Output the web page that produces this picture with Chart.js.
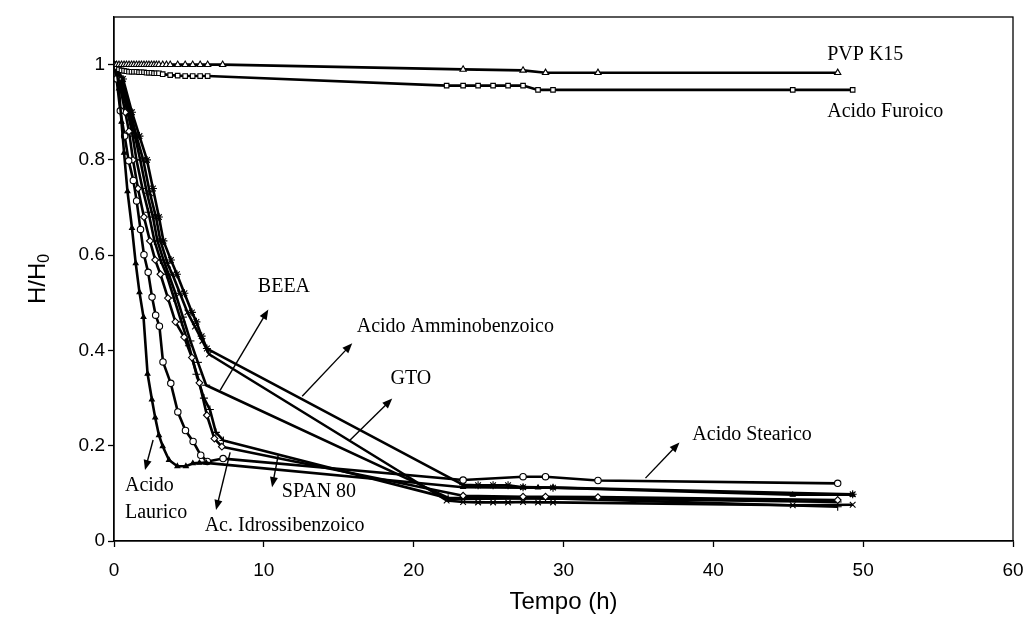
<!DOCTYPE html>
<html lang="it">
<head>
<meta charset="UTF-8">
<title>H/H0 - Tempo</title>
<script src="https://cdn.jsdelivr.net/npm/chart.js@4.4.1/dist/chart.umd.min.js"></script>
<style>
body { margin: 0; background: #fff; }
canvas { display: block; }
</style>
</head>
<body>
<canvas id="grafico" width="1027" height="622"></canvas>
<script>
// Ticks dos eixos
const ticksX = [0, 10, 20, 30, 40, 50, 60];
const ticksY = [0, 0.2, 0.4, 0.6, 0.8, 1];

// PVP K15
const tempoPVP = [0, 0.17, 0.33, 0.5, 0.67, 0.83, 1, 1.17, 1.33, 1.5, 1.67, 1.83, 2, 2.17, 2.33, 2.5, 2.67, 2.83, 3, 3.25, 3.5, 3.75, 4.25, 4.75, 5.25, 5.75, 6.25, 7.25, 23.3, 27.3, 28.8, 32.3, 48.3];
const valoresPVP = [1, 1, 1, 1, 1, 1, 1, 1, 1, 1, 1, 1, 1, 1, 1, 1, 1, 1, 1, 1, 1, 1, 1, 1, 1, 1, 1, 1, 0.990, 0.988, 0.983, 0.983, 0.983];

// Acido Furoico
const tempoFuroico = [0, 0.17, 0.33, 0.5, 0.67, 0.83, 1, 1.17, 1.33, 1.5, 1.67, 1.83, 2, 2.17, 2.33, 2.5, 2.67, 2.83, 3, 3.25, 3.75, 4.25, 4.75, 5.25, 5.75, 6.25, 22.2, 23.3, 24.3, 25.3, 26.3, 27.3, 28.3, 29.3, 45.3, 49.3];
const valoresFuroico = [1, 0.995, 0.99, 0.988, 0.987, 0.986, 0.985, 0.985, 0.985, 0.985, 0.984, 0.984, 0.984, 0.983, 0.983, 0.983, 0.982, 0.982, 0.982, 0.98, 0.978, 0.977, 0.976, 0.976, 0.976, 0.976, 0.956, 0.956, 0.956, 0.956, 0.956, 0.956, 0.947, 0.947, 0.947, 0.947];

// Acido Laurico
const tempoLaurico = [0, 0.17, 0.33, 0.5, 0.67, 0.9, 1.2, 1.45, 1.7, 1.97, 2.24, 2.53, 2.75, 3, 3.25, 3.67, 4.23, 4.8, 5.26, 5.7, 6.15, 23.3, 27.3, 28.3, 29.3, 45.3, 49.3];
const valoresLaurico = [1, 0.99, 0.95, 0.88, 0.815, 0.734, 0.657, 0.583, 0.522, 0.47, 0.351, 0.297, 0.259, 0.222, 0.199, 0.17, 0.157, 0.157, 0.163, 0.164, 0.164, 0.113, 0.112, 0.112, 0.112, 0.097, 0.097];

// Acido Stearico
const tempoStearico = [0, 0.17, 0.42, 0.71, 0.98, 1.29, 1.51, 1.77, 2, 2.28, 2.54, 2.78, 3.03, 3.27, 3.79, 4.26, 4.77, 5.28, 5.79, 6.23, 7.28, 23.3, 27.3, 28.8, 32.3, 48.3];
const valoresStearico = [1, 0.97, 0.903, 0.85, 0.798, 0.757, 0.714, 0.654, 0.601, 0.564, 0.512, 0.474, 0.451, 0.376, 0.331, 0.271, 0.232, 0.209, 0.18, 0.167, 0.173, 0.128, 0.135, 0.135, 0.127, 0.121];

// Ac. Idrossibenzoico
const tempoIdross = [0, 0.3, 0.75, 1, 1.27, 1.6, 2, 2.4, 2.75, 3.1, 3.6, 4.1, 4.68, 5.2, 5.7, 6.2, 6.7, 7.2, 23.3, 27.3, 28.8, 32.3, 48.3];
const valoresIdross = [1, 0.97, 0.9, 0.86, 0.8, 0.74, 0.68, 0.63, 0.59, 0.56, 0.51, 0.46, 0.428, 0.385, 0.332, 0.264, 0.215, 0.198, 0.095, 0.093, 0.093, 0.092, 0.086];

// SPAN 80
const tempoSpan = [0, 0.4, 0.9, 1.2, 1.5, 1.9, 2.3, 2.7, 3.1, 3.5, 4, 4.5, 5, 5.5, 6, 6.4, 6.8, 7.3, 22.3, 27.3, 28.8, 48.3];
const valoresSpan = [1, 0.97, 0.9, 0.86, 0.8, 0.74, 0.69, 0.63, 0.59, 0.56, 0.51, 0.46, 0.41, 0.35, 0.3, 0.276, 0.228, 0.211, 0.09, 0.09, 0.09, 0.072];

// BEEA
const tempoBEEA = [0, 0.45, 1, 1.4, 1.75, 2.2, 2.6, 2.9, 3.3, 3.65, 4.1, 4.6, 5.1, 5.6, 6.15, 22.5, 27.3, 28.8, 32.3, 48.3];
const valoresBEEA = [1, 0.97, 0.9, 0.85, 0.8, 0.73, 0.68, 0.63, 0.59, 0.56, 0.52, 0.47, 0.42, 0.375, 0.327, 0.088, 0.09, 0.089, 0.089, 0.082];

// GTO
const tempoGTO = [0, 0.5, 1.1, 1.5, 1.95, 2.4, 2.8, 3.1, 3.6, 3.9, 4.4, 4.9, 5.4, 5.9, 6.35, 22.2, 23.3, 24.3, 25.3, 26.3, 27.3, 28.3, 29.3, 45.3, 49.3];
const valoresGTO = [1, 0.97, 0.9, 0.85, 0.8, 0.73, 0.68, 0.63, 0.58, 0.56, 0.52, 0.48, 0.45, 0.42, 0.392, 0.085, 0.082, 0.081, 0.081, 0.081, 0.082, 0.081, 0.081, 0.075, 0.076];

// Acido Amminobenzoico
const tempoAmmino = [0, 0.6, 1.2, 1.7, 2.2, 2.6, 3, 3.3, 3.8, 4.2, 4.7, 5.2, 5.5, 5.85, 6.2, 23.3, 24.3, 25.3, 26.3, 27.3, 29.3, 49.3];
const valoresAmmino = [1, 0.97, 0.9, 0.85, 0.8, 0.74, 0.68, 0.63, 0.59, 0.56, 0.52, 0.48, 0.46, 0.43, 0.404, 0.118, 0.117, 0.117, 0.117, 0.113, 0.112, 0.098];

// Rotulos (x, y em unidades dos eixos)
const rotulos = [
    { texto: 'PVP K15', x: 47.6, y: 1.02 },
    { texto: 'Acido Furoico', x: 47.6, y: 0.902 },
    { texto: 'BEEA', x: 9.6, y: 0.534 },
    { texto: 'Acido Amminobenzoico', x: 16.2, y: 0.45 },
    { texto: 'GTO', x: 18.45, y: 0.341 },
    { texto: 'Acido Stearico', x: 38.6, y: 0.222 },
    { texto: 'SPAN 80', x: 11.2, y: 0.103 },
    { texto: 'Acido', x: 0.73, y: 0.115 },
    { texto: 'Laurico', x: 0.73, y: 0.06 },
    { texto: 'Ac. Idrossibenzoico', x: 6.05, y: 0.032 }
];

// Setas: da curva ate o rotulo
const setas = [
    { de: [7.08, 0.316], para: [10.3, 0.486] },
    { de: [12.56, 0.304], para: [15.9, 0.415] },
    { de: [15.76, 0.212], para: [18.57, 0.299] },
    { de: [35.47, 0.132], para: [37.74, 0.207] },
    { de: [10.96, 0.18], para: [10.55, 0.113] },
    { de: [7.75, 0.186], para: [6.81, 0.065] },
    { de: [2.61, 0.212], para: [2.07, 0.149] }
];

function pontos(tempo, valores) {
    return tempo.map((t, i) => ({ x: t, y: valores[i] }));
}

function serie(nome, tempo, valores, estilo, preenchido = false, raio = 3.2) {
    return {
        label: nome,
        data: pontos(tempo, valores),
        borderColor: '#000',
        borderWidth: 2.6,
        borderJoinStyle: 'round',
        pointStyle: estilo,
        pointRadius: raio,
        pointBorderWidth: 1.1,
        pointBorderColor: '#000',
        pointBackgroundColor: preenchido ? '#000' : '#fff',
        tension: 0,
        fill: false
    };
}

const fonteEixo = '"Liberation Sans", Arial, sans-serif';
const fonteRotulo = '"Liberation Serif", "Times New Roman", serif';

// Moldura, titulos dos eixos, rotulos e setas
const extras = {
    id: 'extras',
    afterDatasetsDraw(chart) {
        const ctx = chart.ctx;
        const sx = chart.scales.x;
        const sy = chart.scales.y;
        const area = chart.chartArea;

        ctx.save();
        ctx.strokeStyle = '#000';
        ctx.lineWidth = 1.3;
        ctx.strokeRect(area.left, area.top, area.right - area.left, area.bottom - area.top);

        // setas
        ctx.fillStyle = '#000';
        ctx.lineWidth = 1.4;
        setas.forEach(s => {
            const x1 = sx.getPixelForValue(s.de[0]);
            const y1 = sy.getPixelForValue(s.de[1]);
            const x2 = sx.getPixelForValue(s.para[0]);
            const y2 = sy.getPixelForValue(s.para[1]);
            const ang = Math.atan2(y2 - y1, x2 - x1);
            const tam = 10;
            ctx.beginPath();
            ctx.moveTo(x1, y1);
            ctx.lineTo(x2 - Math.cos(ang) * tam * 0.8, y2 - Math.sin(ang) * tam * 0.8);
            ctx.stroke();
            ctx.beginPath();
            ctx.moveTo(x2, y2);
            ctx.lineTo(x2 - tam * Math.cos(ang) + 4 * Math.sin(ang), y2 - tam * Math.sin(ang) - 4 * Math.cos(ang));
            ctx.lineTo(x2 - tam * Math.cos(ang) - 4 * Math.sin(ang), y2 - tam * Math.sin(ang) + 4 * Math.cos(ang));
            ctx.closePath();
            ctx.fill();
        });

        // rotulos das curvas
        ctx.font = '20px ' + fonteRotulo;
        ctx.textAlign = 'left';
        ctx.textBaseline = 'middle';
        rotulos.forEach(r => {
            ctx.fillText(r.texto, sx.getPixelForValue(r.x), sy.getPixelForValue(r.y));
        });

        // titulo eixo x
        ctx.font = '24px ' + fonteEixo;
        ctx.textAlign = 'center';
        ctx.fillText('Tempo (h)', (area.left + area.right) / 2, 602);

        // titulo eixo y com subscrito
        ctx.translate(38, (area.top + area.bottom) / 2);
        ctx.rotate(-Math.PI / 2);
        ctx.textAlign = 'left';
        const principal = 'H/H';
        ctx.font = '24px ' + fonteEixo;
        const w1 = ctx.measureText(principal).width;
        ctx.font = '16px ' + fonteEixo;
        const w2 = ctx.measureText('0').width;
        const inicio = -(w1 + w2) / 2;
        ctx.font = '24px ' + fonteEixo;
        ctx.fillText(principal, inicio, 0);
        ctx.font = '16px ' + fonteEixo;
        ctx.fillText('0', inicio + w1, 7);
        ctx.restore();
    }
};

const ctx = document.getElementById('grafico').getContext('2d');
new Chart(ctx, {
    type: 'line',
    data: {
        datasets: [
            serie('PVP K15', tempoPVP, valoresPVP, 'triangle', false, 3.6),
            serie('Acido Furoico', tempoFuroico, valoresFuroico, 'rect', false, 3.2),
            serie('Acido Laurico', tempoLaurico, valoresLaurico, 'triangle', true, 2.8),
            serie('Acido Stearico', tempoStearico, valoresStearico, 'circle', false, 3.2),
            serie('Ac. Idrossibenzoico', tempoIdross, valoresIdross, 'rectRot', false, 3.4),
            serie('SPAN 80', tempoSpan, valoresSpan, 'cross', false, 4),
            serie('BEEA', tempoBEEA, valoresBEEA, 'line', false, 4),
            serie('GTO', tempoGTO, valoresGTO, 'crossRot', false, 4),
            serie('Acido Amminobenzoico', tempoAmmino, valoresAmmino, 'star', false, 4)
        ]
    },
    options: {
        responsive: false,
        animation: false,
        devicePixelRatio: 1,
        layout: { padding: { left: 0, right: 14, top: 17, bottom: 0 } },
        plugins: {
            legend: { display: false },
            tooltip: { enabled: false }
        },
        scales: {
            x: {
                type: 'linear',
                min: 0,
                max: 60,
                afterBuildTicks: (scale) => { scale.ticks = ticksX.map(v => ({ value: v })); },
                afterFit: (scale) => {
                    scale.height = 81;
                    scale.paddingLeft = 0;
                    scale.paddingRight = 0;
                },
                border: { color: '#000', width: 1.3 },
                grid: { drawOnChartArea: false, color: '#000', tickLength: 6, tickWidth: 1.3 },
                ticks: { color: '#000', padding: 12, maxRotation: 0, font: { family: fonteEixo, size: 19 } }
            },
            y: {
                type: 'linear',
                min: 0,
                max: 1.1,
                afterBuildTicks: (scale) => { scale.ticks = ticksY.map(v => ({ value: v })); },
                afterFit: (scale) => {
                    scale.width = 114;
                    scale.paddingTop = 0;
                    scale.paddingBottom = 0;
                },
                border: { color: '#000', width: 1.3 },
                grid: { drawOnChartArea: false, color: '#000', tickLength: 6, tickWidth: 1.3 },
                ticks: { color: '#000', padding: 3, font: { family: fonteEixo, size: 19 }, callback: (v) => String(v) }
            }
        }
    },
    plugins: [extras]
});
</script>
</body>
</html>
